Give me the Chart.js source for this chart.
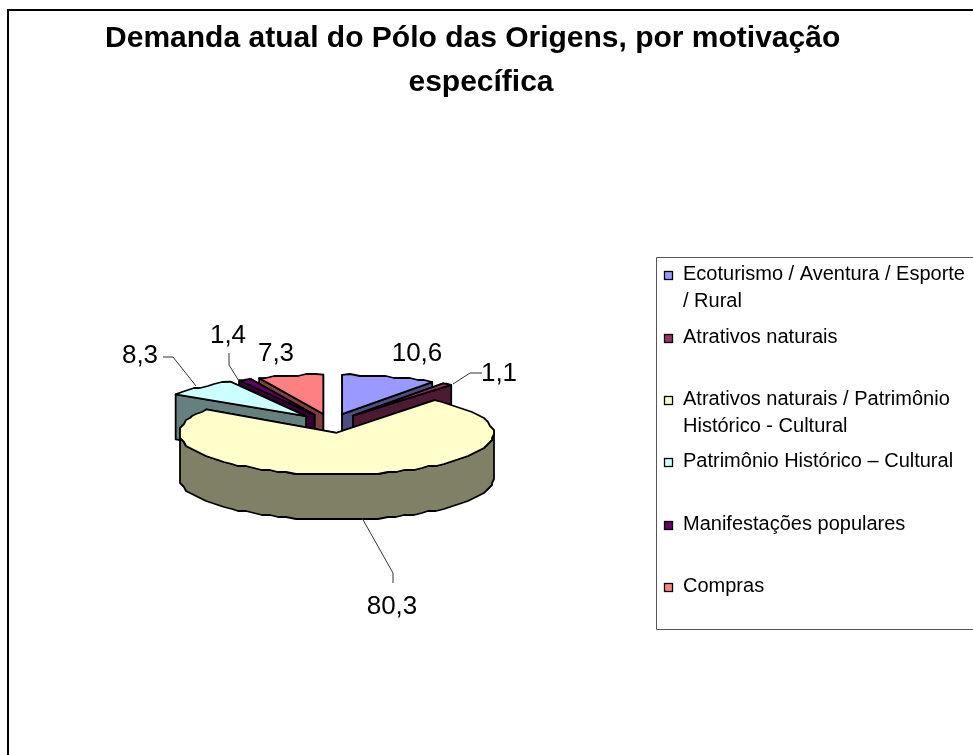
<!DOCTYPE html>
<html>
<head>
<meta charset="utf-8">
<title>Demanda atual do Pólo das Origens</title>
<style>
    html, body { margin: 0; padding: 0; background: #fff; }
    canvas { display: block; }
</style>
</head>
<body>
<canvas id="pieChart" width="973" height="755"></canvas>
<script src="https://cdn.jsdelivr.net/npm/chart.js@4"></script>
<script>
const categories = [
    ['Ecoturismo / Aventura / Esporte', '/ Rural'],
    ['Atrativos naturais'],
    ['Atrativos naturais / Patrimônio', 'Histórico - Cultural'],
    ['Patrimônio Histórico – Cultural'],
    ['Manifestações populares'],
    ['Compras']
];
const values = [10.6, 1.1, 80.3, 8.3, 1.4, 7.3];
const titleLines = ['Demanda atual do Pólo das Origens, por motivação  ', 'específica'];

const topColors = ['#9999ff', '#993366', '#ffffcc', '#ccffff', '#660066', '#ff8080'];
const wallColors = ['#4d4d80', '#4d1a33', '#808066', '#668080', '#330033', '#804040'];

// where the tilted pie sits on the page
const pie = { x: 331, y: 423, radius: 157, explode: 37, depth: 45, tiltBack: 0.25, tiltFront: 0.267 };
// the source rim is a rough polygon, not a smooth curve
const rim = { step: 0.06, gridX: 2, gridY: 2 };

// label text anchor + leader line, same order as values
const valueLabels = [
    { x: 417, y: 354, line: [] },
    { x: 499, y: 374, line: [[482, 373], [470, 373], [453, 384]] },
    { x: 392, y: 607, line: [[393, 583], [393, 573], [362, 518]] },
    { x: 140, y: 356, line: [[163, 357], [173, 357], [196, 386]] },
    { x: 228, y: 336, line: [[229, 353], [229, 365], [239, 381]] },
    { x: 276, y: 354, line: [] }
];

const legendBox = { x: 656, y: 257, bottom: 629, markerX: 664, textX: 683 };
const legendRows = [274.5, 337.5, 399.5, 461.5, 524.5, 586.5];
const legendLineHeight = 26.5;

function slicePoint(arc, tilt, angle, radius) {
    const mid = (arc.startAngle + arc.endAngle) / 2;
    return [
        pie.x + Math.cos(mid) * pie.explode + Math.cos(angle) * radius,
        pie.y + (Math.sin(mid) * pie.explode + Math.sin(angle) * radius) * tilt
    ];
}

// rim points of a slice, each with the angle it was sampled at
function outline(arc, tilt) {
    const pts = [];
    const span = arc.endAngle - arc.startAngle;
    const steps = Math.max(2, Math.ceil(span / rim.step));
    for (let i = 0; i <= steps; i++) {
        const angle = arc.startAngle + span * i / steps;
        const p = slicePoint(arc, tilt, angle, pie.radius);
        // keep the two ends exact so the cut faces still meet the rim
        if (i > 0 && i < steps) {
            p[0] = Math.round(p[0] / rim.gridX) * rim.gridX;
            p[1] = Math.round(p[1] / rim.gridY) * rim.gridY;
        }
        p.angle = angle;
        pts.push(p);
    }
    return pts;
}

function tracePath(ctx, pts) {
    ctx.beginPath();
    pts.forEach((p, i) => i ? ctx.lineTo(p[0], p[1]) : ctx.moveTo(p[0], p[1]));
    ctx.closePath();
}

function drawWall(ctx, pts, color) {
    const down = pts.slice().reverse().map(p => [p[0], p[1] + pie.depth]);
    tracePath(ctx, pts.concat(down));
    ctx.fillStyle = color;
    ctx.fill();
    ctx.stroke();
}

function drawSlice(ctx, arc, index) {
    const mid = (arc.startAngle + arc.endAngle) / 2;
    const tilt = Math.sin(mid) > 0 ? pie.tiltFront : pie.tiltBack;
    const apex = slicePoint(arc, tilt, 0, 0);
    const wall = wallColors[index];
    const edge = outline(arc, tilt);

    ctx.strokeStyle = '#000';
    ctx.lineWidth = 1.8;
    ctx.lineJoin = 'round';

    // flat cut faces, the one further back goes first
    [edge[0], edge[edge.length - 1]]
        .sort((p, q) => p[1] - q[1])
        .forEach(c => drawWall(ctx, [apex, c], wall));

    // rim, only the part that faces the viewer
    const front = edge.filter(p => p.angle >= -0.02 && p.angle <= Math.PI + 0.02);
    if (front.length > 1) drawWall(ctx, front, wall);

    // the top face is the library's own arc element, pushed out by hand
    // and trimmed to the rough rim
    const top = [apex].concat(edge);
    ctx.save();
    tracePath(ctx, top);
    ctx.clip();
    ctx.translate(apex[0], apex[1]);
    ctx.scale(1, tilt);
    ctx.translate(-arc.x, -arc.y);
    arc.draw(ctx);
    ctx.restore();

    tracePath(ctx, top);
    ctx.stroke();
}

const tiltedPie = {
    id: 'tiltedPie',
    beforeDatasetsDraw(chart) {
        const ctx = chart.ctx;
        const arcs = chart.getDatasetMeta(0).data;
        const depthOf = a => Math.sin((a.startAngle + a.endAngle) / 2);
        const order = arcs.map((a, i) => i).sort((i, j) => depthOf(arcs[i]) - depthOf(arcs[j]));
        ctx.save();
        order.forEach(i => drawSlice(ctx, arcs[i], i));
        ctx.restore();
        return false;
    }
};

const pageExtras = {
    id: 'pageExtras',
    afterDraw(chart) {
        const ctx = chart.ctx;
        ctx.save();

        // outer frame, open at right and bottom like the source
        ctx.strokeStyle = '#000';
        ctx.lineWidth = 2;
        ctx.beginPath();
        ctx.moveTo(8, 755);
        ctx.lineTo(8, 10);
        ctx.lineTo(973, 10);
        ctx.stroke();

        // value labels
        ctx.font = '26px "Liberation Sans", Arial, sans-serif';
        ctx.textAlign = 'center';
        ctx.textBaseline = 'middle';
        ctx.fillStyle = '#000';
        ctx.strokeStyle = '#333';
        ctx.lineWidth = 1;
        values.forEach((v, i) => {
            const lab = valueLabels[i];
            ctx.fillText(v.toFixed(1).replace('.', ','), lab.x, lab.y);
            if (lab.line.length) {
                ctx.beginPath();
                lab.line.forEach((p, k) => k ? ctx.lineTo(p[0], p[1]) : ctx.moveTo(p[0], p[1]));
                ctx.stroke();
            }
        });

        // legend
        ctx.strokeStyle = '#555';
        ctx.beginPath();
        ctx.moveTo(973, legendBox.y + 0.5);
        ctx.lineTo(legendBox.x + 0.5, legendBox.y + 0.5);
        ctx.lineTo(legendBox.x + 0.5, legendBox.bottom + 0.5);
        ctx.lineTo(973, legendBox.bottom + 0.5);
        ctx.stroke();

        ctx.font = '20px "Liberation Sans", Arial, sans-serif';
        ctx.textAlign = 'left';
        chart.data.labels.forEach((lines, i) => {
            const y = legendRows[i];
            ctx.fillStyle = topColors[i];
            ctx.fillRect(legendBox.markerX, Math.round(y) - 4, 9, 9);
            ctx.strokeStyle = '#000';
            ctx.lineWidth = 1.3;
            ctx.strokeRect(legendBox.markerX + 0.5, Math.round(y) - 3.5, 8, 8);
            ctx.fillStyle = '#000';
            lines.forEach((t, k) => ctx.fillText(t, legendBox.textX, y + k * legendLineHeight));
        });
        ctx.restore();
    }
};

new Chart(document.getElementById('pieChart'), {
    type: 'pie',
    data: {
        labels: categories,
        datasets: [{
            data: values,
            backgroundColor: topColors,
            borderWidth: 0
        }]
    },
    options: {
        responsive: false,
        animation: false,
        radius: pie.radius + 4,
        layout: { padding: { right: 11 } },
        plugins: {
            legend: { display: false },
            tooltip: { enabled: false },
            title: {
                display: true,
                text: titleLines,
                color: '#000',
                padding: { top: 17, bottom: 10 },
                font: { family: '"Liberation Sans", Arial, sans-serif', size: 30, weight: 'bold', lineHeight: 1.45 }
            }
        }
    },
    plugins: [tiltedPie, pageExtras]
});
</script>
</body>
</html>
